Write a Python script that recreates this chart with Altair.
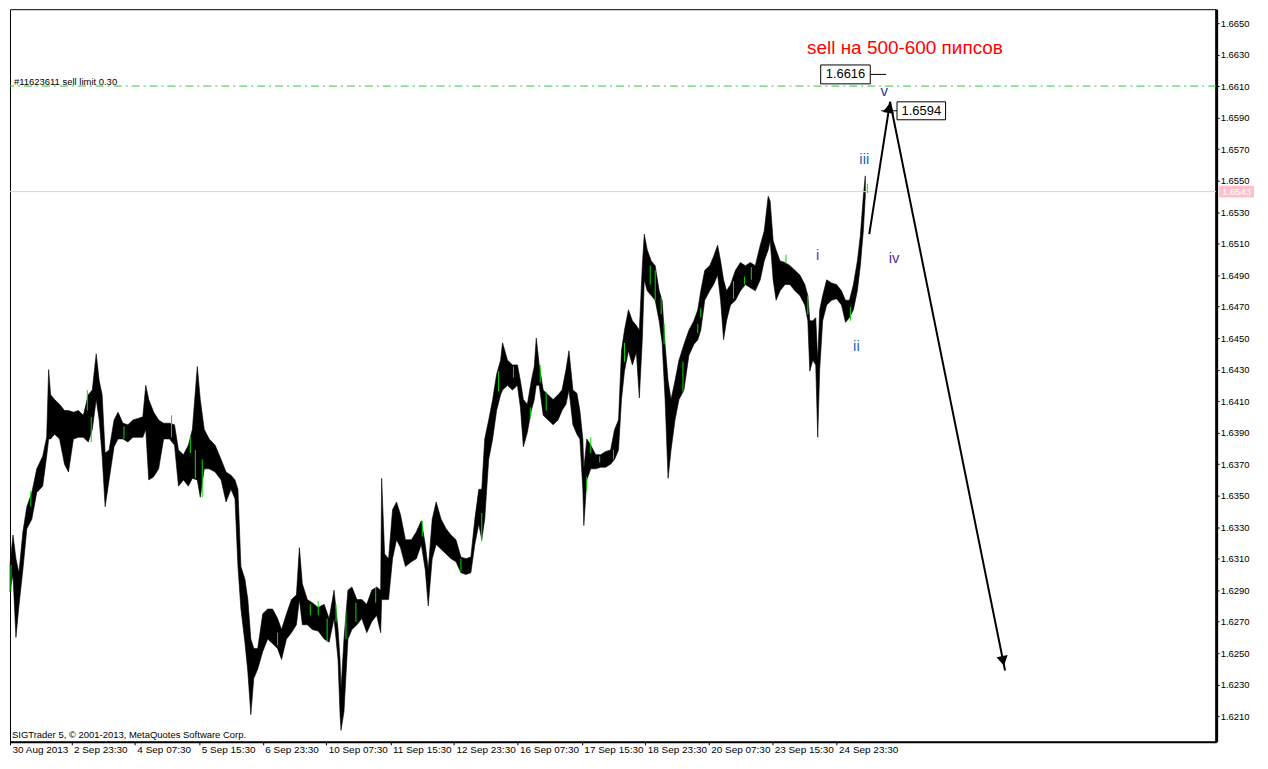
import altair as alt
import pandas as pd

# ---------------- data ----------------
# bar index (M30 bars, 0 = first bar on the chart), high / low envelope
bars = [0,3,6,9,13,17,22,27,33,37,
        39,41,45,50,55,59,64,69,74,79,
        83,87,90,93,96,100,105,109,114,119,
        124,129,134,137,140,145,150,155,161,166,
        170,175,180,184,189,192,196,201,207,213,
        218,223,227,230,233,237,240,243,246,250,
        255,260,265,270,274,279,284,289,292,295,
        300,305,311,317,322,327,331,333,334,337,
        341,345,350,355,360,365,370,374,375,378,
        382,386,390,394,399,405,410,415,419,422,
        426,430,435,440,445,450,455,460,465,469,
        473,476,479,483,487,491,495,497,502,507,
        512,515,518,522,526,529,531,534,538,543,
        548,553,557,561,564,568,572,575,578,579,
        582,586,591,596,601,606,610,614,617,620,
        624,628,632,635,638,640,643,647,651,655,
        658,661,664,667,671,675,680,685,690,694,
        697,701,706,710,714,717,720,723,727,732,
        737,742,747,752,757,761,765,767,770,773,
        777,782,787,792,797,802,805,807,810,813,
        815,817,820,824,829,834,839,843,847,851,
        855,858,861,863]

highs = [1.6306,1.6325,1.6310,1.6301,1.6327,1.6343,1.6352,1.6367,1.6375,1.6387,
         1.6430,1.6414,1.6411,1.6408,1.6404,1.6404,1.6403,1.6404,1.6401,1.6414,
         1.6417,1.6440,1.6423,1.6414,1.6377,1.6379,1.6398,1.6403,1.6396,1.6395,
         1.6398,1.6399,1.6400,1.6420,1.6411,1.6403,1.6398,1.6396,1.6396,1.6395,
         1.6379,1.6376,1.6382,1.6392,1.6432,1.6411,1.6392,1.6386,1.6382,1.6373,
         1.6365,1.6363,1.6360,1.6354,1.6305,1.6297,1.6284,1.6259,1.6253,1.6253,
         1.6275,1.6278,1.6278,1.6272,1.6265,1.6275,1.6284,1.6287,1.6317,1.6294,
         1.6284,1.6282,1.6279,1.6281,1.6272,1.6290,1.6265,1.6246,1.6227,1.6259,
         1.6290,1.6292,1.6284,1.6284,1.6281,1.6290,1.6292,1.6290,1.6361,1.6313,
         1.6310,1.6341,1.6346,1.6338,1.6322,1.6322,1.6327,1.6334,1.6319,1.6303,
         1.6335,1.6346,1.6335,1.6329,1.6325,1.6322,1.6311,1.6310,1.6311,1.6335,
         1.6354,1.6354,1.6386,1.6398,1.6411,1.6427,1.6436,1.6447,1.6436,1.6433,
         1.6433,1.6423,1.6411,1.6408,1.6423,1.6432,1.6450,1.6433,1.6417,1.6414,
         1.6411,1.6414,1.6417,1.6430,1.6442,1.6417,1.6415,1.6404,1.6386,1.6367,
         1.6386,1.6382,1.6376,1.6376,1.6378,1.6379,1.6392,1.6398,1.6442,1.6455,
         1.6468,1.6461,1.6458,1.6455,1.6496,1.6516,1.6506,1.6499,1.6496,1.6480,
         1.6474,1.6446,1.6423,1.6411,1.6423,1.6436,1.6446,1.6455,1.6461,1.6468,
         1.6480,1.6493,1.6496,1.6502,1.6509,1.6499,1.6487,1.6480,1.6484,1.6493,
         1.6498,1.6496,1.6498,1.6496,1.6509,1.6518,1.6540,1.6537,1.6512,1.6506,
         1.6499,1.6498,1.6496,1.6493,1.6490,1.6484,1.6477,1.6461,1.6461,1.6463,
         1.6436,1.6468,1.6477,1.6487,1.6485,1.6484,1.6480,1.6474,1.6474,1.6484,
         1.6499,1.6515,1.6540,1.6553]

lows = [1.6289,1.6300,1.6260,1.6280,1.6303,1.6329,1.6335,1.6352,1.6356,1.6375,
        1.6386,1.6386,1.6389,1.6386,1.6370,1.6365,1.6386,1.6387,1.6387,1.6384,
        1.6392,1.6411,1.6398,1.6375,1.6343,1.6360,1.6381,1.6386,1.6386,1.6384,
        1.6387,1.6387,1.6387,1.6392,1.6360,1.6362,1.6367,1.6386,1.6386,1.6382,
        1.6356,1.6360,1.6356,1.6361,1.6360,1.6349,1.6367,1.6367,1.6365,1.6360,
        1.6346,1.6354,1.6348,1.6305,1.6278,1.6257,1.6238,1.6211,1.6234,1.6240,
        1.6251,1.6259,1.6256,1.6253,1.6246,1.6259,1.6263,1.6268,1.6284,1.6268,
        1.6268,1.6265,1.6264,1.6259,1.6257,1.6272,1.6246,1.6211,1.6201,1.6213,
        1.6259,1.6265,1.6268,1.6272,1.6263,1.6270,1.6274,1.6263,1.6284,1.6284,
        1.6284,1.6310,1.6322,1.6317,1.6305,1.6308,1.6310,1.6319,1.6303,1.6280,
        1.6310,1.6319,1.6316,1.6313,1.6310,1.6308,1.6301,1.6300,1.6301,1.6319,
        1.6332,1.6322,1.6335,1.6373,1.6386,1.6404,1.6414,1.6417,1.6420,1.6417,
        1.6420,1.6406,1.6381,1.6390,1.6404,1.6411,1.6420,1.6420,1.6401,1.6398,
        1.6395,1.6398,1.6404,1.6408,1.6417,1.6395,1.6389,1.6386,1.6354,1.6331,
        1.6360,1.6367,1.6367,1.6368,1.6368,1.6370,1.6373,1.6379,1.6411,1.6429,
        1.6442,1.6433,1.6441,1.6412,1.6449,1.6487,1.6480,1.6477,1.6474,1.6461,
        1.6447,1.6411,1.6361,1.6379,1.6398,1.6411,1.6417,1.6439,1.6446,1.6449,
        1.6455,1.6474,1.6480,1.6484,1.6490,1.6474,1.6449,1.6461,1.6471,1.6474,
        1.6480,1.6484,1.6482,1.6480,1.6487,1.6499,1.6506,1.6512,1.6487,1.6474,
        1.6480,1.6484,1.6484,1.6480,1.6477,1.6471,1.6461,1.6429,1.6436,1.6433,
        1.6387,1.6430,1.6461,1.6471,1.6474,1.6475,1.6471,1.6460,1.6463,1.6468,
        1.6480,1.6496,1.6518,1.6540]

# green (up) bars
green_bars = [1,21,78,82,115,163,182,187,194,270,
              303,311,320,329,339,349,369,416,455,476,
              493,508,525,535,541,582,586,595,609,620,
              646,651,657,660,679,694,697,730,741,748,
              783,805,848,865]
green_highs = [1.6306,1.6353,1.6417,1.6400,1.6394,1.6401,1.6387,1.6379,1.6373,1.6263,
               1.6281,1.6283,1.6272,1.6281,1.6276,1.6282,1.6292,1.6334,1.6310,1.6339,
               1.6429,1.6432,1.6406,1.6433,1.6416,1.6362,1.6387,1.6375,1.6379,1.6447,
               1.6496,1.6493,1.6476,1.6459,1.6435,1.6459,1.6469,1.6486,1.6489,1.6495,
               1.6503,1.6477,1.6470,1.6548]
green_lows = [1.6289,1.6343,1.6404,1.6384,1.6386,1.6387,1.6377,1.6361,1.6349,1.6255,
              1.6274,1.6274,1.6257,1.6270,1.6259,1.6270,1.6282,1.6324,1.6302,1.6321,
              1.6416,1.6425,1.6399,1.6422,1.6404,1.6353,1.6377,1.6371,1.6373,1.6435,
              1.6484,1.6474,1.6465,1.6446,1.6416,1.6453,1.6463,1.6475,1.6484,1.6487,
              1.6497,1.6465,1.6461,1.6542]

# axes
x_tick_values = [0, 62, 126, 191, 255, 319, 384, 448, 512, 577, 641, 705, 769, 834]
x_tick_labels = ["30 Aug 2013", "2 Sep 23:30", "4 Sep 07:30", "5 Sep 15:30",
                 "6 Sep 23:30", "10 Sep 07:30", "11 Sep 15:30", "12 Sep 23:30",
                 "16 Sep 07:30", "17 Sep 15:30", "18 Sep 23:30", "20 Sep 07:30",
                 "23 Sep 15:30", "24 Sep 23:30"]
y_tick_values = [1.6210, 1.6230, 1.6250, 1.6270, 1.6290, 1.6310, 1.6330, 1.6350,
                 1.6370, 1.6390, 1.6410, 1.6430, 1.6450, 1.6470, 1.6490, 1.6510,
                 1.6530, 1.6550, 1.6570, 1.6590, 1.6610, 1.6630, 1.6650]

# levels and annotations
current_price = [1.6543]
sell_limit_price = [1.6610]

arrow_bars = [867, 888, 1004]
arrow_prices = [1.6516, 1.6600, 1.6239]
head_bars = [887, 1002]
head_prices = [1.6596, 1.6245]
head_angles = [9, 168.5]

box_labels = ["1.6616", "1.6594"]
box_x1 = [818, 895]
box_x2 = [868, 944]
box_top = [1.66234, 1.66000]
box_bottom = [1.66114, 1.65886]
box_center_bar = [843, 919.5]
box_center_price = [1.66174, 1.65943]
tail_x1 = [868, 879]
tail_x2 = [884, 895]
tail_price = [1.66174, 1.65943]

wave_labels = ["i", "ii", "iii", "iv", "v"]
wave_bars = [815, 854, 862, 892, 882]
wave_prices = [1.6503, 1.6445, 1.6564, 1.6501, 1.6607]
wave_colors = ["#7a2a9a", "#2462b4", "#2462b4", "#5a2ca0", "#2a3a9e"]

# ---------------- chart ----------------
W, H = 1210, 735
FONT = "Liberation Sans"
xs = alt.Scale(domain=[0, 1217], nice=False, zero=False)
ys = alt.Scale(domain=[1.61937, 1.66588], nice=False, zero=False)

df = pd.DataFrame({"bar": bars, "high": highs, "low": lows})
gdf = pd.DataFrame({"bar": green_bars, "high": green_highs, "low": green_lows})

label_expr = ("[" + ",".join("'" + s + "'" for s in x_tick_labels) + "][indexof(["
              + ",".join(str(v) for v in x_tick_values) + "], datum.value)]")

x_axis = alt.Axis(values=x_tick_values, labelExpr=label_expr, grid=False,
                  domainColor="black", domainWidth=2, tickColor="black",
                  tickSize=3, tickWidth=1, labelAlign="left", labelBaseline="top",
                  labelPadding=0, labelOffset=2, labelFont=FONT, labelFontSize=10,
                  labelColor="black", labelOverlap=False, labelFlush=False,
                  labelBound=False, title=None)
y_axis = alt.Axis(orient="right", values=y_tick_values, format=".4f", grid=False,
                  domainColor="black", domainWidth=3, tickColor="black",
                  tickSize=3, tickWidth=1, labelPadding=1, labelFont=FONT,
                  labelFontSize=9.5, labelColor="black", labelOverlap=False,
                  labelFlush=False, labelBound=False, title=None)


def X(field):
    return alt.X(field, scale=xs, axis=x_axis, title=None)


def Y(field):
    return alt.Y(field, scale=ys, axis=y_axis, title=None)


price_band = alt.Chart(df).mark_area(color="black", stroke="black", strokeWidth=0.6,
                                     interpolate="linear").encode(
    x=X("bar:Q"), y=Y("high:Q"), y2="low:Q")

green = alt.Chart(gdf).mark_rule(color="#00e000", strokeWidth=1).encode(
    x=X("bar:Q"), y=Y("high:Q"), y2="low:Q")

pink_line = alt.Chart(pd.DataFrame({"high": current_price})).mark_rule(
    color="#ffc0cb", strokeWidth=1).encode(y=Y("high:Q"))

limit_line = alt.Chart(pd.DataFrame({"high": sell_limit_price})).mark_rule(
    color="#33c633", strokeWidth=1, strokeDash=[8, 4, 2, 4]).encode(y=Y("high:Q"))

arrow = alt.Chart(pd.DataFrame({"bar": arrow_bars, "high": arrow_prices,
                                "o": list(range(len(arrow_bars)))})).mark_line(
    color="black", strokeWidth=2).encode(x=X("bar:Q"), y=Y("high:Q"), order="o:Q")

heads = alt.Chart(pd.DataFrame({"bar": head_bars, "high": head_prices,
                                "ang": head_angles})).mark_point(
    shape="triangle-up", filled=True, size=130, color="black", opacity=1).encode(
    x=X("bar:Q"), y=Y("high:Q"), angle=alt.Angle("ang:Q", scale=None))

bdf = pd.DataFrame({"label": box_labels, "x1": box_x1, "x2": box_x2,
                    "top": box_top, "bottom": box_bottom,
                    "cx": box_center_bar, "cy": box_center_price,
                    "t1": tail_x1, "t2": tail_x2, "tp": tail_price})

tails = alt.Chart(bdf).mark_rule(color="black", strokeWidth=1).encode(
    x=X("t1:Q"), x2="t2:Q", y=Y("tp:Q"))

boxes = alt.Chart(bdf).mark_rect(fill="white", stroke="black", strokeWidth=1).encode(
    x=X("x1:Q"), x2="x2:Q", y=Y("top:Q"), y2="bottom:Q")

box_text = alt.Chart(bdf).mark_text(font=FONT, fontSize=13, color="black",
                                    align="center", baseline="middle").encode(
    x=X("cx:Q"), y=Y("cy:Q"), text="label:N")

waves = alt.Chart(pd.DataFrame({"label": wave_labels, "bar": wave_bars,
                                "high": wave_prices, "c": wave_colors})).mark_text(
    font=FONT, fontSize=15, align="center", baseline="middle").encode(
    x=X("bar:Q"), y=Y("high:Q"), text="label:N", color=alt.Color("c:N", scale=None))

sell_text = alt.Chart(pd.DataFrame({"t": ["sell на 500-600 пипсов"], "bar": [903],
                                    "high": [1.6634]})).mark_text(
    font=FONT, fontSize=19, color="#ff0000", align="center", baseline="middle").encode(
    x=X("bar:Q"), y=Y("high:Q"), text="t:N")

order_text = alt.Chart(pd.DataFrame({"t": ["#11623611 sell limit 0.30"], "bar": [4],
                                     "high": [1.66108]})).mark_text(
    font=FONT, fontSize=9.5, color="black", align="left", baseline="alphabetic").encode(
    x=X("bar:Q"), y=Y("high:Q"), text="t:N")

copyright_text = alt.Chart(pd.DataFrame({"t": ["SIGTrader 5, © 2001-2013, MetaQuotes Software Corp."],
                                         "bar": [2], "high": [1.61962]})).mark_text(
    font=FONT, fontSize=9.5, color="black", align="left", baseline="alphabetic").encode(
    x=X("bar:Q"), y=Y("high:Q"), text="t:N")

tag_df = pd.DataFrame({"high": current_price, "t": ["1.6543"]})
price_tag = alt.Chart(tag_df).mark_rule(color="#ffc0cb", strokeWidth=12).encode(
    x=alt.value(W + 3), x2=alt.value(W + 38), y=Y("high:Q"))
price_tag_text = alt.Chart(tag_df).mark_text(
    font=FONT, fontSize=9.5, color="white", align="left", baseline="middle").encode(
    x=alt.value(W + 6), y=Y("high:Q"), text="t:N")

chart = alt.layer(
    price_band, pink_line, limit_line, green, arrow, heads,
    tails, boxes, box_text, waves, sell_text, order_text, copyright_text,
    price_tag, price_tag_text,
).properties(width=W, height=H, padding=0, background="white").configure_view(
    stroke="black", strokeWidth=1)

chart.save("out.html", embed_options={"renderer": "svg", "actions": False})
